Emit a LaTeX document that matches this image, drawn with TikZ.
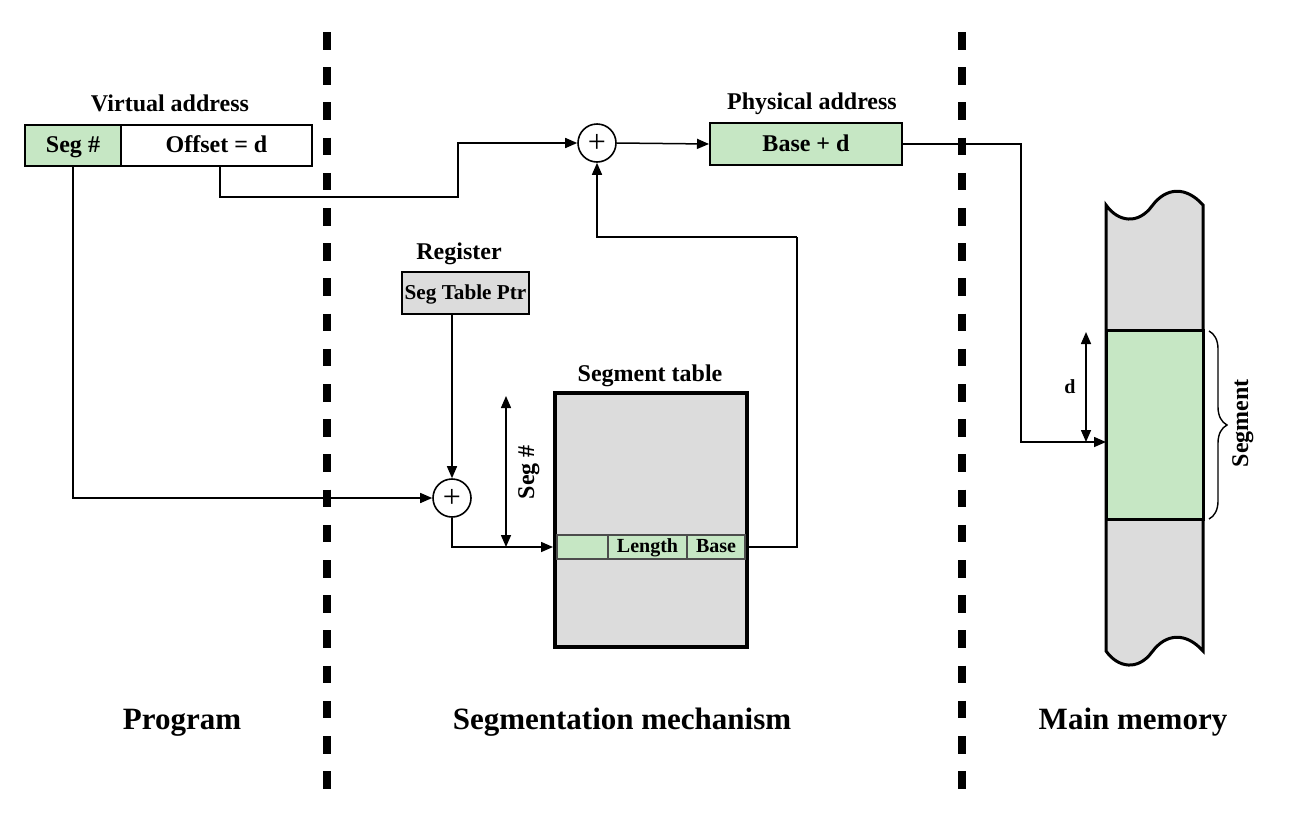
\documentclass[tikz,border=0pt]{standalone}
\usepackage{fontspec}
\setmainfont{Liberation Serif}
\usetikzlibrary{arrows.meta,decorations.pathreplacing}
\definecolor{gfill}{RGB}{198,231,196}
\definecolor{grfill}{RGB}{220,220,220}
\tikzset{
  lbl/.style={font=\fontsize{12}{14}\selectfont\bfseries, inner sep=0pt, text height=8.5pt, text depth=1.5pt},
  big/.style={font=\fontsize{15.5}{18}\selectfont\bfseries, inner sep=0pt, text height=11pt, text depth=2pt},
  box/.style={draw, line width=1pt, inner sep=0pt, font=\fontsize{12}{14}\selectfont\bfseries, text height=8.5pt, text depth=1.5pt},
  cell/.style={draw=black!70, line width=0.6pt, fill=gfill, inner sep=0pt, minimum height=12pt, font=\fontsize{10}{12}\selectfont\bfseries, text height=7pt, text depth=1.2pt},
  plusc/.style={circle, draw, line width=0.8pt, minimum size=19pt, inner sep=0pt, font=\fontsize{16}{16}\selectfont},
  arr/.style={line width=0.75pt, -{Triangle[length=6pt,width=5pt]}},
  dimarr/.style={line width=0.75pt, {Triangle[length=6pt,width=5pt]}-{Triangle[length=6pt,width=5pt]}},
  divider/.style={line width=4pt, dash pattern=on 8.8pt off 8.8pt}
}
\begin{document}
\begin{tikzpicture}[x=0.5pt,y=-0.5pt]
\useasboundingbox (0,0) rectangle (1306,814);
% dividers
\draw[divider] (327,32) -- (327,790);
\draw[divider] (962,32) -- (962,790);
% virtual address
\node[lbl] (valbl) at (170,104) {Virtual address};
\node[box, fill=gfill, minimum width=48pt, minimum height=20.5pt] (seg) at (73,145.5) {Seg \#};
\node[box, fill=white, minimum width=95.5pt, minimum height=20.5pt] (off) at (216.5,145.5) {Offset = d};
% physical address
\node[lbl] (palbl) at (812,102) {Physical address};
\node[box, fill=gfill, minimum width=96pt, minimum height=21pt] (phys) at (806,144) {Base + d};
% adders
\node[plusc] (plus1) at (597,143) {+};
\node[plusc] (plus2) at (452,498) {+};
% register
\node[lbl] (reglbl) at (459,252) {Register};
\node[box, fill=grfill, minimum width=63.5pt, minimum height=21pt, font=\fontsize{10.6}{12}\selectfont\bfseries, text height=7.5pt, text depth=1.3pt] (reg) at (465.5,293) {Seg Table Ptr};
% segment table
\node[lbl] (stlbl) at (650,374) {Segment table};
\node[draw, line width=2pt, fill=grfill, minimum width=96pt, minimum height=127pt, inner sep=0pt] (table) at (651,520) {};
\node[cell, minimum width=25.5pt] (blank) at (582.5,547) {};
\node[cell, minimum width=39.5pt] (len) at (647.5,547) {Length};
\node[cell, minimum width=29pt] (base) at (716,547) {Base};
% seg # dimension
\coordinate (sdtop) at (506,396);
\coordinate (sdbot) at (506,547);
\draw[dimarr] (sdtop) -- (sdbot);
\node[lbl, rotate=90] (sdlbl) at (527,472) {Seg \#};
% main memory column
\draw[line width=1.5pt, fill=grfill]
  (1106,205) .. controls (1118,222) and (1138,225) .. (1152,206)
  .. controls (1166,187) and (1186,186) .. (1203,205)
  -- (1203,651)
  .. controls (1186,632) and (1166,633) .. (1152,652)
  .. controls (1138,671) and (1118,668) .. (1106,651) -- cycle;
\node[draw, line width=1.5pt, fill=gfill, minimum width=48.5pt, minimum height=94.5pt, inner sep=0pt] (memseg) at (1154.5,424.5) {};
\draw[line width=0.7pt, decorate, decoration={brace, amplitude=9pt}] (1209,331) -- (1209,519);
\node[lbl, rotate=90] (seglbl) at (1241,423) {Segment};
\coordinate (memin) at (1106,442);
\coordinate (mbend) at (1021,144);
\coordinate (dtop) at (1086,332);
\coordinate (dbot) at (1086,442);
\draw[dimarr] (dtop) -- (dbot);
\node[font=\fontsize{10}{12}\selectfont\bfseries, inner sep=0pt] (dlbl) at (1070,387) {d};
% connectors
\coordinate (offbend) at (458,197);
\coordinate (basebend) at (797,237);
\draw[arr] (seg.south) |- (plus2.west);
\draw[arr] ([xshift=1.75pt]off.south) |- (offbend) |- (plus1.west);
\draw[arr] (plus1.east) -- (phys.west);
\draw[arr] (phys.east) -- (mbend) |- (memin);
\draw[arr] (plus2 |- reg.south) -- (plus2.north);
\draw[arr] (plus2.south) |- (table.west |- blank.west);
\draw[line width=0.75pt] (table.east |- base.east) -| (basebend);
\draw[arr] (basebend) -| (plus1.south);
% bottom labels
\node[big] (prog) at (182,720) {Program};
\node[big] (mech) at (622,720) {Segmentation mechanism};
\node[big] (mm) at (1133,720) {Main memory};
\end{tikzpicture}
\end{document}
